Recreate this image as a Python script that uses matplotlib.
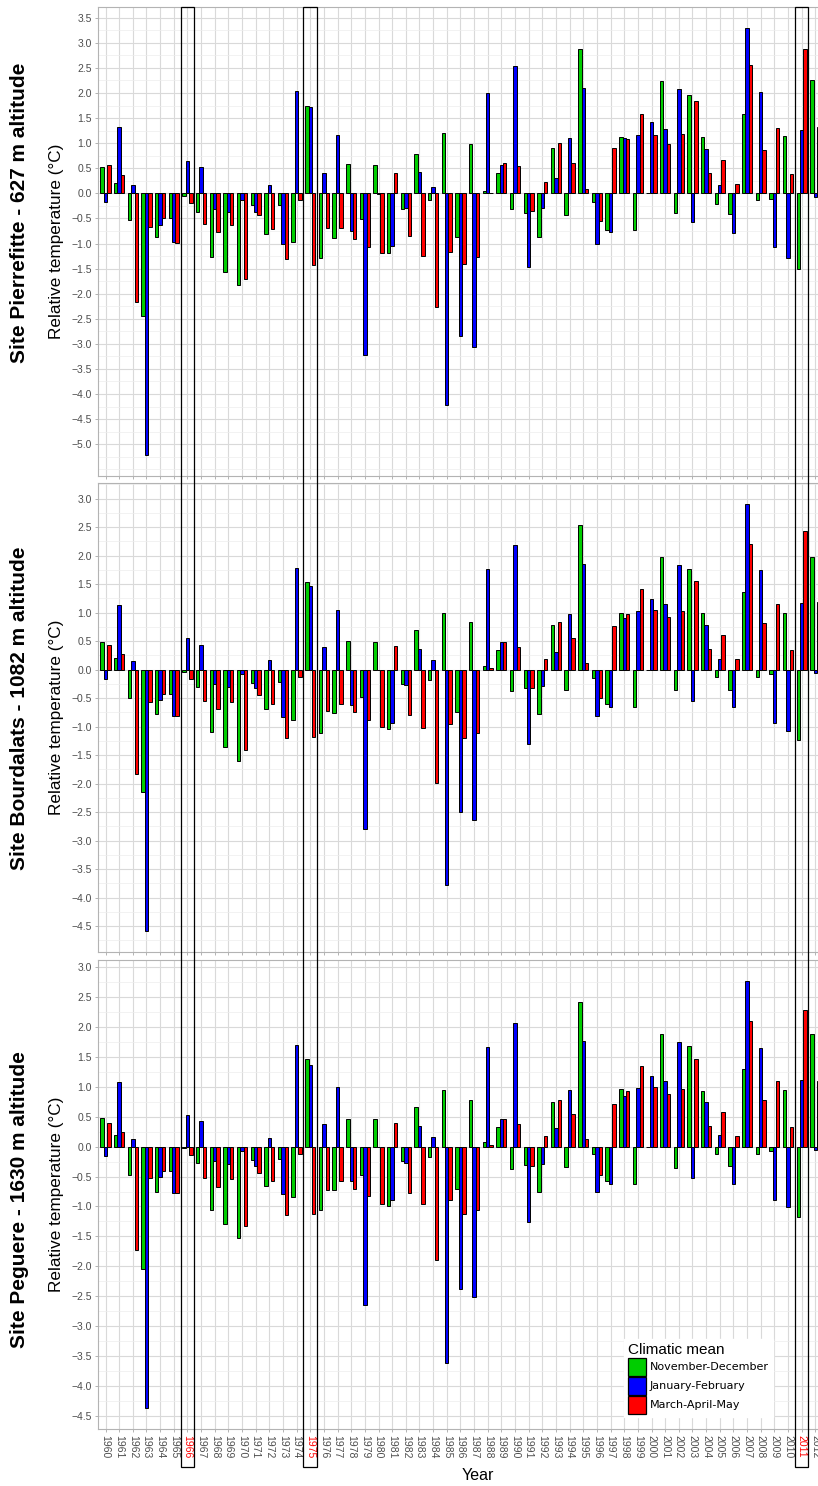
import numpy as np
import matplotlib.pyplot as plt
import matplotlib.transforms as mtransforms
from matplotlib.patches import Rectangle, Patch
from matplotlib.ticker import MultipleLocator, FuncFormatter

plt.rcParams['font.family'] = ['Liberation Sans', 'DejaVu Sans']

# données
years = list(range(1960, 2013))
highlight_years = [1966, 1975, 2011]
series_names = ['November-December', 'January-February', 'March-April-May']
series_colors = ['#00CD00', '#0000FF', '#FF0000']

site_titles = ['Site Pierrefitte - 627 m altitude',
               'Site Bourdalats - 1082 m altitude',
               'Site Peguere - 1630 m altitude']

pierrefitte_nd = [0.53, 0.21, -0.53, -2.44, -0.88, -0.50, -0.05, -0.37, -1.26, -1.57,
                  -1.82, -0.23, -0.81, -0.23, -0.96, 1.75, -1.29, -0.90, 0.59, -0.51,
                  0.56, -1.18, -0.31, 0.78, -0.14, 1.20, -0.88, 0.98, 0.05, 0.41,
                  -0.32, -0.40, -0.88, 0.90, -0.44, 2.88, -0.17, -0.74, 1.12, -0.74,
                  0.01, 2.23, -0.39, 1.96, 1.12, -0.21, -0.41, 1.59, -0.14, -0.11,
                  1.15, -1.51, 2.26]
pierrefitte_jf = [-0.17, 1.32, 0.17, -5.21, -0.64, -0.96, 0.64, 0.52, -0.31, -0.37,
                  -0.13, -0.37, 0.17, -1.00, 2.05, 1.73, 0.41, 1.16, -0.75, -3.23,
                  -0.02, -1.04, -0.29, 0.43, 0.13, -4.22, -2.84, -3.07, 2.00, 0.56,
                  2.54, -1.47, -0.29, 0.31, 1.10, 2.10, -1.01, -0.77, 1.10, 1.17,
                  1.43, 1.28, 2.09, -0.58, 0.88, 0.17, -0.79, 3.29, 2.03, -1.06,
                  -1.28, 1.27, -0.07]
pierrefitte_mam = [0.56, 0.37, -2.16, -0.68, -0.50, -0.98, -0.20, -0.61, -0.78, -0.64,
                   -1.71, -0.44, -0.71, -1.30, -0.13, -1.42, -0.69, -0.69, -0.91, -1.06,
                   -1.18, 0.41, -0.85, -1.25, -2.26, -1.16, -1.41, -1.27, 0.01, 0.60,
                   0.54, -0.35, 0.23, 1.00, 0.60, 0.09, -0.55, 0.91, 1.08, 1.59,
                   1.17, 0.98, 1.18, 1.85, 0.40, 0.66, 0.18, 2.56, 0.86, 1.30,
                   0.39, 2.88, 1.32]

bourdalats_nd = [0.49, 0.20, -0.49, -2.14, -0.78, -0.43, -0.04, -0.30, -1.10, -1.35,
                 -1.61, -0.23, -0.69, -0.22, -0.88, 1.54, -1.12, -0.76, 0.50, -0.48,
                 0.48, -1.04, -0.26, 0.69, -0.18, 1.00, -0.74, 0.83, 0.07, 0.34,
                 -0.37, -0.33, -0.78, 0.79, -0.36, 2.53, -0.15, -0.60, 1.00, -0.65,
                 -0.01, 1.98, -0.36, 1.76, 0.99, -0.13, -0.35, 1.37, -0.13, -0.08,
                 0.99, -1.24, 1.98]
bourdalats_jf = [-0.16, 1.14, 0.15, -4.58, -0.54, -0.82, 0.56, 0.44, -0.25, -0.31,
                 -0.08, -0.33, 0.16, -0.83, 1.79, 1.47, 0.40, 1.05, -0.62, -2.79,
                 -0.01, -0.93, -0.27, 0.37, 0.16, -3.78, -2.49, -2.64, 1.76, 0.48,
                 2.19, -1.31, -0.29, 0.31, 0.98, 1.86, -0.82, -0.66, 0.90, 1.03,
                 1.24, 1.15, 1.84, -0.55, 0.78, 0.19, -0.65, 2.90, 1.74, -0.93,
                 -1.07, 1.16, -0.06]
bourdalats_mam = [0.43, 0.27, -1.83, -0.57, -0.43, -0.82, -0.16, -0.55, -0.69, -0.57,
                  -1.41, -0.45, -0.60, -1.20, -0.13, -1.19, -0.72, -0.60, -0.75, -0.88,
                  -1.01, 0.41, -0.79, -1.02, -1.99, -0.96, -1.20, -1.12, 0.02, 0.49,
                  0.40, -0.33, 0.19, 0.83, 0.56, 0.12, -0.50, 0.76, 0.97, 1.41,
                  1.04, 0.92, 1.02, 1.55, 0.36, 0.60, 0.19, 2.21, 0.82, 1.15,
                  0.35, 2.43, 1.18]

peguere_nd = [0.47, 0.20, -0.47, -2.04, -0.76, -0.40, -0.03, -0.28, -1.06, -1.29,
              -1.53, -0.23, -0.66, -0.21, -0.85, 1.46, -1.06, -0.72, 0.46, -0.47,
              0.46, -0.99, -0.24, 0.66, -0.18, 0.94, -0.71, 0.78, 0.07, 0.32,
              -0.37, -0.31, -0.75, 0.75, -0.34, 2.41, -0.13, -0.57, 0.96, -0.62,
              -0.01, 1.88, -0.36, 1.68, 0.93, -0.12, -0.33, 1.29, -0.13, -0.08,
              0.94, -1.17, 1.88]
peguere_jf = [-0.16, 1.08, 0.13, -4.36, -0.51, -0.78, 0.53, 0.42, -0.24, -0.29,
              -0.07, -0.32, 0.15, -0.79, 1.69, 1.37, 0.38, 1.00, -0.57, -2.64,
              -0.01, -0.89, -0.27, 0.35, 0.16, -3.62, -2.38, -2.51, 1.67, 0.46,
              2.07, -1.26, -0.29, 0.31, 0.94, 1.76, -0.76, -0.63, 0.85, 0.98,
              1.18, 1.09, 1.74, -0.53, 0.75, 0.19, -0.62, 2.76, 1.64, -0.89,
              -1.01, 1.11, -0.06]
peguere_mam = [0.39, 0.24, -1.73, -0.53, -0.41, -0.77, -0.14, -0.53, -0.67, -0.54,
               -1.32, -0.44, -0.57, -1.15, -0.13, -1.12, -0.72, -0.57, -0.71, -0.83,
               -0.96, 0.40, -0.77, -0.96, -1.90, -0.90, -1.13, -1.06, 0.03, 0.46,
               0.37, -0.32, 0.17, 0.78, 0.54, 0.12, -0.48, 0.71, 0.93, 1.34,
               1.00, 0.88, 0.96, 1.46, 0.34, 0.57, 0.18, 2.09, 0.78, 1.09,
               0.33, 2.28, 1.10]

sites = [
    [pierrefitte_nd, pierrefitte_jf, pierrefitte_mam],
    [bourdalats_nd, bourdalats_jf, bourdalats_mam],
    [peguere_nd, peguere_jf, peguere_mam],
]

# graduations y de chaque panneau
ytick_ranges = [(-5.0, 3.5), (-4.5, 3.0), (-4.5, 3.0)]

# mise en page (pixels)
W, H = 818, 1486
fig = plt.figure(figsize=(W / 100, H / 100), dpi=100)

panel_px = [(7, 476), (483, 952), (960, 1429)]
site_title_y = [213, 708, 1200]
left_px = 98
xlim = (1959.45, 2012.45)
px_per_year = 13.65
width_px = (xlim[1] - xlim[0]) * px_per_year

grey_txt = '#4D4D4D'
grey_line = '#B3B3B3'
x = np.array(years)
bar_w = 0.25
fmt = FuncFormatter(lambda v, p: f'{v:.1f}'.replace('-', '\u2212'))

axes = []
for k, (top, bot) in enumerate(panel_px):
    ax = fig.add_axes([left_px / W, 1 - bot / H, width_px / W, (bot - top) / H])
    axes.append(ax)
    for j, vals in enumerate(sites[k]):
        ax.bar(x + (j - 1) * bar_w, vals, width=bar_w, color=series_colors[j],
               edgecolor='black', linewidth=0.7, label=series_names[j])

    all_vals = np.concatenate([np.array(v) for v in sites[k]])
    lo, hi = all_vals.min(), all_vals.max()
    pad = 0.05 * (hi - lo)
    ax.set_ylim(lo - pad, hi + pad)
    ax.set_xlim(*xlim)

    t0, t1 = ytick_ranges[k]
    ax.set_yticks(np.arange(t0, t1 + 0.01, 0.5))
    ax.yaxis.set_minor_locator(MultipleLocator(0.25))
    ax.yaxis.set_major_formatter(fmt)
    ax.set_xticks(years)
    ax.set_axisbelow(True)
    ax.grid(True, which='major', color='#D9D9D9', linewidth=0.8)
    ax.grid(True, which='minor', axis='y', color='#EDEDED', linewidth=0.5)
    for s in ax.spines.values():
        s.set_color(grey_line)
        s.set_linewidth(0.8)
    ax.tick_params(axis='both', which='major', length=2.5, width=0.7, color=grey_line,
                   labelsize=7.5, labelcolor=grey_txt, pad=2)
    ax.tick_params(axis='y', which='minor', length=0)

    if k < 2:
        ax.tick_params(axis='x', labelbottom=False)
    else:
        ax.set_xticklabels([str(y) for y in years], rotation=-90, fontsize=7.5)
        for lab, yr in zip(ax.get_xticklabels(), years):
            if yr in highlight_years:
                lab.set_color('red')

    yc = 1 - (top + bot) / 2 / H
    fig.text(57 / W, yc, 'Relative temperature (°C)', rotation=90,
             ha='center', va='center', fontsize=12.3)
    fig.text(20 / W, 1 - site_title_y[k] / H, site_titles[k], rotation=90,
             ha='center', va='center', fontsize=15, fontweight='bold')

fig.text(478 / W, 1 - 1475 / H, 'Year', ha='center', va='center', fontsize=11.5)

# cadres des années remarquables
blend = mtransforms.blended_transform_factory(axes[2].transData, fig.transFigure)
for yr in highlight_years:
    rect = Rectangle((yr - 0.5, 1 - 1467 / H), 1.0, (1467 - 7) / H,
                     transform=blend, fill=False, edgecolor='black',
                     linewidth=0.9, zorder=10, clip_on=False)
    fig.add_artist(rect)

# légende
handles = [Patch(facecolor=c, edgecolor='black', linewidth=0.9) for c in series_colors]
leg = axes[2].legend(handles, series_names, title='Climatic mean',
                     loc='upper left', bbox_to_anchor=(624 / W, 1 - 1339 / H),
                     bbox_transform=fig.transFigure, frameon=True,
                     prop={'family': 'DejaVu Sans', 'size': 8},
                     title_fontsize=11, handlelength=1.62, handleheight=2.1,
                     labelspacing=0.09, handletextpad=0.35, borderpad=0.35,
                     borderaxespad=0, alignment='left', fancybox=False)
leg.get_frame().set_facecolor('white')
leg.get_frame().set_edgecolor('white')
leg.get_frame().set_alpha(1.0)

fig.savefig('out.png', dpi=100)
plt.close(fig)
